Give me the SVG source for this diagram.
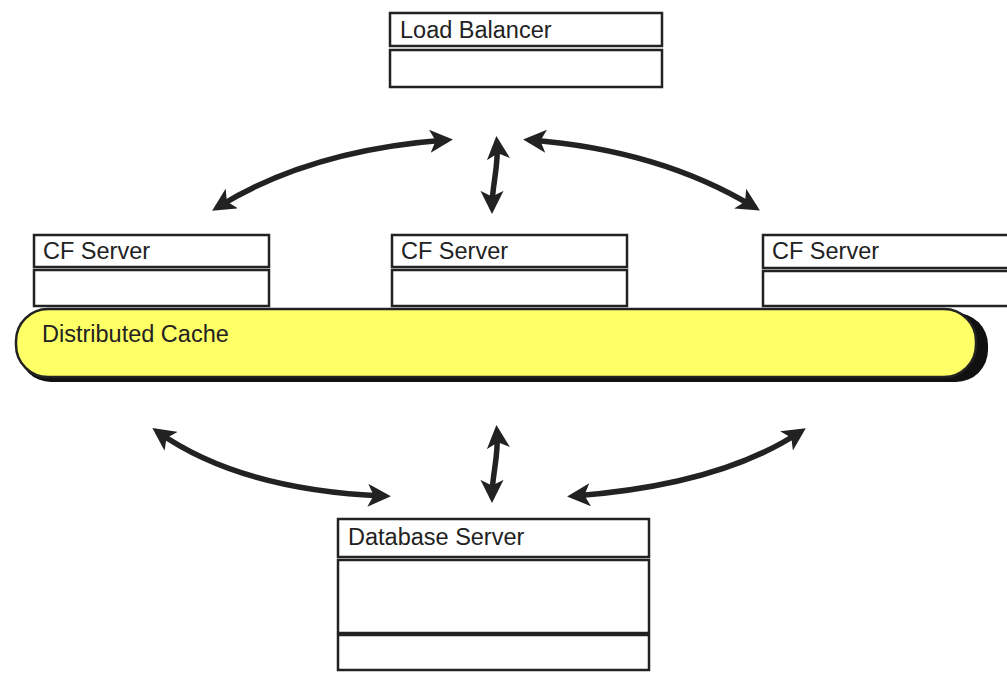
<svg xmlns="http://www.w3.org/2000/svg" width="1007" height="674" viewBox="0 0 1007 674">
<defs>
<marker id="ah" viewBox="0 0 10 10" refX="7" refY="5" markerWidth="4.2" markerHeight="4.2" orient="auto-start-reverse" markerUnits="strokeWidth">
<path d="M0,0 L10,5 L0,10 L2.5,5 Z" fill="#222"/>
</marker>
</defs>
<style>
.box{fill:#fff;stroke:#222;stroke-width:2.5}
.lbl{font-family:"Liberation Sans",Arial,sans-serif;font-size:23.5px;fill:#222}
.con{fill:none;stroke:#222;stroke-width:5.5;stroke-linecap:round;marker-start:url(#ah);marker-end:url(#ah)}
</style>
<rect width="1007" height="674" fill="#fff"/>
<g id="load-balancer">
<rect class="box" x="390" y="13" width="272" height="33"/>
<rect class="box" x="390" y="50" width="272" height="37"/>
<text class="lbl" x="400" y="38">Load Balancer</text>
</g>
<g id="cf-server-1">
<rect class="box" x="34" y="235" width="235" height="32"/>
<rect class="box" x="34" y="270" width="235" height="36"/>
<text class="lbl" x="43" y="259">CF Server</text>
</g>
<g id="cf-server-2">
<rect class="box" x="392" y="235" width="235" height="32"/>
<rect class="box" x="392" y="270" width="235" height="36"/>
<text class="lbl" x="401" y="259">CF Server</text>
</g>
<g id="cf-server-3">
<rect class="box" x="763" y="235" width="250" height="33"/>
<rect class="box" x="763" y="271" width="250" height="35"/>
<text class="lbl" x="772" y="259">CF Server</text>
</g>
<g id="distributed-cache">
<rect x="19" y="313" width="969" height="69" rx="32" fill="#111"/>
<rect x="16" y="309" width="960" height="68" rx="32" fill="#ffff66" stroke="#222" stroke-width="2.5"/>
<text class="lbl" x="42" y="342">Distributed Cache</text>
</g>
<g id="database-server">
<rect class="box" x="338" y="519" width="311" height="38"/>
<rect class="box" x="338" y="560" width="311" height="73"/>
<rect class="box" x="338" y="635" width="311" height="35"/>
<text class="lbl" x="348" y="545">Database Server</text>
</g>
<g id="connectors">
<path class="con" d="M218,207 Q310,150 446,140"/>
<path class="con" d="M497,143 C499,165 492,185 492,207"/>
<path class="con" d="M530,140 Q660,150 754,207"/>
<path class="con" d="M158,432 Q240,490 384,496"/>
<path class="con" d="M497,432 C499,455 492,475 492,496"/>
<path class="con" d="M800,432 Q720,485 574,496"/>
</g>
</svg>
